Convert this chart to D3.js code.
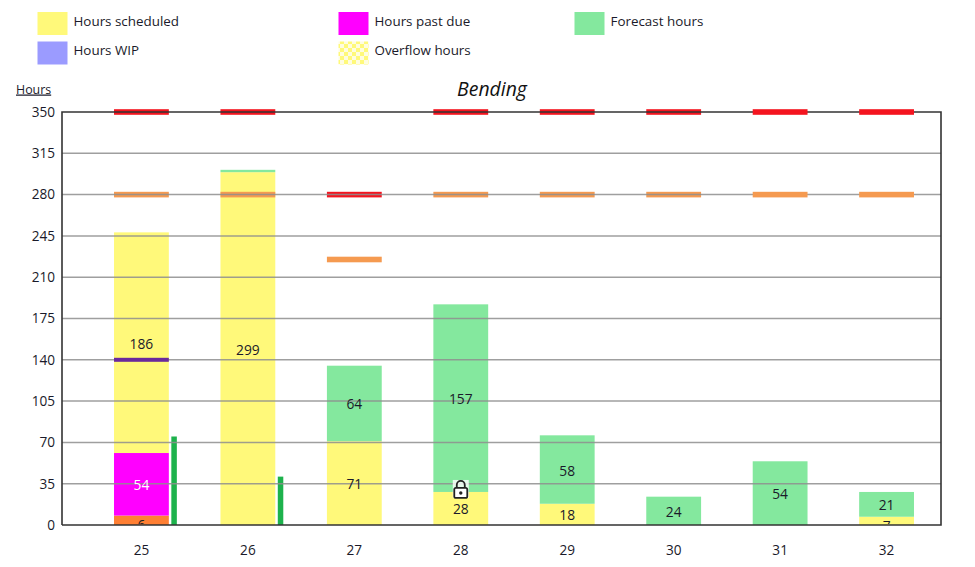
<!DOCTYPE html>
<html><head><meta charset="utf-8">
<script src="https://cdn.jsdelivr.net/npm/d3@7"></script>
<style>
html,body{margin:0;padding:0;background:#fff}
svg{display:block}
text{font-family:"Open Sans","Noto Sans",sans-serif;fill:#1a1a2a;font-weight:500}
</style></head><body><svg id="c" width="975" height="567"></svg>
<script>
const weeks=[25,26,27,28,29,30,31,32];
const hoursOrange=[8,0,0,0,0,0,0,0];
const hoursPastDue=[53,0,0,0,0,0,0,0];
const hoursScheduled=[187,299,71,28,18,0,0,7];
const hoursForecast=[0,2,64,159,58,24,54,21];
const wipMarker=[140,null,null,null,null,null,null,null];
const greenBars=[75,41,0,0,0,0,0,0];
const orangeLimit=[280,280,225,280,280,280,280,280];
const redLimit=[350,350,280,350,350,350,350,350];
const labelScheduled=["186","299","71","28","18",null,null,"7"];
const labelPastDue=["54",null,null,null,null,null,null,null];
const labelOrange=["6",null,null,null,null,null,null,null];
const labelForecast=[null,null,"64","157","58","24","54","21"];
const yTicks=[0,35,70,105,140,175,210,245,280,315,350];
const lockedWeek=28;
const legendItems=[["Hours scheduled","#fff97a"],["Hours past due","#ff00ff"],["Forecast hours","#84e89e"],["Hours WIP","#9b9bff"],["Overflow hours","url(#chk)"]];

const svg=d3.select("#c");
const defs=svg.append("defs");
const pat=defs.append("pattern").attr("id","chk").attr("width",8).attr("height",8).attr("patternUnits","userSpaceOnUse");
pat.append("rect").attr("width",8).attr("height",8).attr("fill","#fff97a");
pat.append("rect").attr("width",4).attr("height",4).attr("fill","#fffde0");
pat.append("rect").attr("x",4).attr("y",4).attr("width",4).attr("height",4).attr("fill","#fffde0");

const y=d3.scaleLinear().domain([0,350]).range([525,112]);
const x=d3.scaleBand().domain(weeks).range([88.2,939.8]).paddingInner(0.485).paddingOuter(0.2425);
const L=62,R=941;
const bw=x.bandwidth();
defs.append("clipPath").attr("id","plotClip").append("rect").attr("x",L).attr("y",y(350)).attr("width",R-L).attr("height",y(0)-y(350)-1);

// legend
const lx=[37,338,574,37,338], ly=[12,12,12,41.5,41.5];
const lg=svg.append("g");
legendItems.forEach((d,i)=>{
  lg.append("rect").attr("x",lx[i]+.5).attr("y",ly[i]).attr("width",30).attr("height",23).attr("fill",d[1]);
  lg.append("text").attr("x",lx[i]+36.5).attr("y",ly[i]+13.5).attr("font-size",13.4).text(d[0]);
});
svg.append("text").attr("x",16).attr("y",93.5).attr("font-size",12.4).attr("text-decoration","underline").text("Hours");
svg.append("text").attr("x",492).attr("y",95.5).attr("text-anchor","middle").attr("font-size",19.4).attr("font-style","italic").style("font-weight",400).style("fill","#111").text("Bending");

// stacked bars
const stack=[[hoursOrange,"#ff7f33"],[hoursPastDue,"#ff00ff"],[hoursScheduled,"#fff97a"],[hoursForecast,"#84e89e"]];
const gb=svg.append("g");
weeks.forEach((w,i)=>{
  let base=0;
  stack.forEach(([arr,col])=>{
    const v=arr[i]; if(!v) return;
    gb.append("rect").attr("x",x(w)).attr("width",bw).attr("y",y(base+v)).attr("height",y(base)-y(base+v)).attr("fill",col);
    base+=v;
  });
});
// thin green bars
weeks.forEach((w,i)=>{ if(greenBars[i]) gb.append("rect").attr("x",x(w)+bw+2.5).attr("width",5.5).attr("y",y(greenBars[i])).attr("height",y(0)-y(greenBars[i])).attr("fill","#1db24c"); });

// limit markers under the grid for weeks before 31
const limit=(g,i)=>{
  const w=weeks[i];
  g.append("rect").attr("x",x(w)).attr("width",bw).attr("y",y(orangeLimit[i])-2.8).attr("height",5.6).attr("fill","#f59a50");
  g.append("rect").attr("x",x(w)).attr("width",bw).attr("y",y(redLimit[i])-2.8).attr("height",5.6).attr("fill","#f4141f");
};
const under=svg.append("g");
weeks.forEach((w,i)=>{ if(w<31) limit(under,i); });

// y axis with grid
const yAxis=d3.axisLeft(y).tickValues(yTicks).tickSize(0).tickPadding(7);
const gy=svg.append("g").attr("transform",`translate(${L},0)`).call(yAxis);
gy.select(".domain").remove();
gy.selectAll("text").attr("font-size",13.6).style("font-family",'"Open Sans","Noto Sans",sans-serif').attr("fill","#1a1a2a");
const grid=svg.append("g");
yTicks.filter(t=>t>0&&t<350).forEach(t=>{
  grid.append("line").attr("x1",L).attr("x2",R).attr("y1",y(t)).attr("y2",y(t)).attr("stroke","#8f8f8f").attr("stroke-width",1.5).attr("opacity",.85);
});
// frame
svg.append("path").attr("d",`M${L},${y(0)}V${y(350)}H${R}V${y(0)}H${L}`).attr("fill","none").attr("stroke","#333").attr("stroke-width",1.6);

const over=svg.append("g");
weeks.forEach((w,i)=>{ if(w>=31) limit(over,i); });
// wip marker
weeks.forEach((w,i)=>{ if(wipMarker[i]!=null) over.append("rect").attr("x",x(w)).attr("width",bw).attr("y",y(wipMarker[i])-2).attr("height",4).attr("fill","#6a2a9c"); });

// x axis
const xAxis=d3.axisBottom(x).tickSize(0).tickPadding(20);
const gx=svg.append("g").attr("transform",`translate(0,${y(0)})`).call(xAxis);
gx.select(".domain").remove();
gx.selectAll("text").attr("font-size",13.6).style("font-family",'"Open Sans","Noto Sans",sans-serif').attr("fill","#1a1a2a");

// value labels (clipped at the axis, as small segments are in the reference)
const labels=svg.append("g").attr("clip-path","url(#plotClip)");
const lab=(arr,bases,col)=>weeks.forEach((w,i)=>{
  if(arr[i]==null) return;
  const v=bases[1][i], b=bases[0][i];
  const h=y(b)-y(b+v);
  labels.append("text").attr("x",x(w)+bw/2).attr("y",y(b+v/2)+(h<12?10:6)).attr("text-anchor","middle").attr("font-size",13.8).style("fill",col).text(arr[i]);
});
const add=(...a)=>weeks.map((_,i)=>d3.sum(a,s=>s[i]));
lab(labelOrange,[weeks.map(()=>0),hoursOrange],"#222");
lab(labelPastDue,[hoursOrange,hoursPastDue],"#fff");
lab(labelScheduled,[add(hoursOrange,hoursPastDue),hoursScheduled],"#1a1a2a");
lab(labelForecast,[add(hoursOrange,hoursPastDue,hoursScheduled),hoursForecast],"#1a1a2a");

// lock icon on the locked week
const li=weeks.indexOf(lockedWeek);
const lockBase=add(hoursOrange,hoursPastDue,hoursScheduled)[li];
const lock=svg.append("g").attr("transform",`translate(${x(lockedWeek)+bw/2},${y(lockBase)-1})`);
lock.append("rect").attr("x",-8).attr("y",-11).attr("width",16).attr("height",18).attr("fill","#fff").attr("opacity",.8);
lock.append("path").attr("d","M-4,-3V-6A4,4 0 0 1 4,-6V-3").attr("fill","none").attr("stroke","#222").attr("stroke-width",1.8);
lock.append("rect").attr("x",-6.5).attr("y",-3).attr("width",13).attr("height",10).attr("rx",1.5).attr("fill","#fff").attr("stroke","#222").attr("stroke-width",1.8);
lock.append("circle").attr("cx",0).attr("cy",2).attr("r",1.7).attr("fill","#222");
</script></body></html>
